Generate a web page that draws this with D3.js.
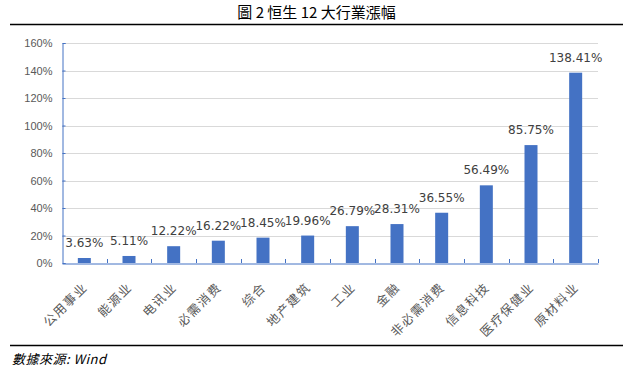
<!DOCTYPE html>
<html>
<head>
<meta charset="utf-8">
<script src="https://cdn.jsdelivr.net/npm/d3@7"></script>
<style>
  body { margin: 0; background: #fff; }
  svg { display: block; }
</style>
</head>
<body>
<svg id="chart" width="633" height="373"></svg>
<script>
// data
var sectors = ["公用事业", "能源业", "电讯业", "必需消费", "综合", "地产建筑", "工业", "金融", "非必需消费", "信息科技", "医疗保健业", "原材料业"];
var gains = [3.63, 5.11, 12.22, 16.22, 18.45, 19.96, 26.79, 28.31, 36.55, 56.49, 85.75, 138.41];
var yTicks = [0, 20, 40, 60, 80, 100, 120, 140, 160];

var svg = d3.select("svg#chart"),
    width = +svg.attr("width"),
    height = +svg.attr("height");

var margin = {left: 62, right: 35, top: 43, bottom: 110};
var axisColor = "#4472C4";

// title + rules
svg.append("text")
    .attr("x", width / 2)
    .attr("y", 18)
    .attr("text-anchor", "middle")
    .style("font-family", "'Noto Sans CJK TC', 'Noto Sans CJK SC', sans-serif")
    .style("font-size", "15px")
    .style("fill", "#000")
    .text("圖 2 恒生 12 大行業漲幅");

svg.append("line")
    .attr("x1", 10).attr("x2", 623)
    .attr("y1", 24.5).attr("y2", 24.5)
    .style("stroke", "#000").attr("stroke-width", 1.5);

svg.append("line")
    .attr("x1", 10).attr("x2", 623)
    .attr("y1", 345.5).attr("y2", 345.5)
    .style("stroke", "#000").attr("stroke-width", 1.5);

svg.append("text")
    .attr("x", 12)
    .attr("y", 364)
    .style("font-family", "'Noto Sans CJK TC', sans-serif")
    .style("font-size", "13px")
    .style("font-style", "italic")
    .style("letter-spacing", "0.5px")
    .style("fill", "#000")
    .text("數據來源: Wind");

// scales
var x = d3.scaleBand()
    .domain(sectors)
    .range([margin.left, width - margin.right]);

var y = d3.scaleLinear()
    .domain([0, 160])
    .range([263, margin.top]);

var g = svg.append("g");

// gridlines
g.append("g")
    .selectAll("line")
    .data(yTicks.slice(1))
    .enter().append("line")
    .attr("x1", margin.left).attr("x2", width - margin.right)
    .attr("y1", function(d) { return Math.round(y(d)) + 0.5; })
    .attr("y2", function(d) { return Math.round(y(d)) + 0.5; })
    .style("stroke", "#d9d9d9");

// y axis
var yAxis = d3.axisRight(y)
    .tickValues(yTicks)
    .tickSize(3)
    .tickFormat(function(d) { return d + "%"; });

var yg = g.append("g")
    .attr("transform", "translate(" + (margin.left + 0.5) + ",0)")
    .call(yAxis);
yg.select(".domain").style("stroke", axisColor);
yg.selectAll(".tick line").style("stroke", axisColor);
yg.selectAll(".tick text")
    .attr("x", -10)
    .attr("text-anchor", "end")
    .style("font-family", "'Liberation Sans', Arial, sans-serif")
    .style("font-size", "11px")
    .style("fill", "#595959");

// bars
var barW = 13;
g.append("g")
    .selectAll("rect")
    .data(gains)
    .enter().append("rect")
    .attr("x", function(d, i) { return x(sectors[i]) + x.bandwidth() / 2 - barW / 2; })
    .attr("y", function(d) { return y(d); })
    .attr("width", barW)
    .attr("height", function(d) { return y(0) - y(d); })
    .attr("fill", "#4472C4");

// x axis
var xAxis = d3.axisBottom(x).tickSize(0).tickFormat("");
var xg = g.append("g")
    .attr("transform", "translate(0," + (y(0) + 0.5) + ")")
    .call(xAxis);
xg.select(".domain").style("stroke", axisColor);

// boundary ticks going up from the axis
g.append("g")
    .selectAll("line")
    .data(sectors)
    .enter().append("line")
    .attr("x1", function(d) { return Math.round(x(d) + x.bandwidth()) + 0.5; })
    .attr("x2", function(d) { return Math.round(x(d) + x.bandwidth()) + 0.5; })
    .attr("y1", y(0) - 4).attr("y2", y(0))
    .style("stroke", axisColor);

// category labels
g.append("g")
    .selectAll("text")
    .data(sectors)
    .enter().append("text")
    .attr("transform", function(d) {
        return "translate(" + (x(d) + x.bandwidth() / 2 + 4) + "," + (y(0) + 25) + ") rotate(-45)";
    })
    .attr("text-anchor", "end")
    .style("font-family", "'Noto Sans CJK SC', sans-serif")
    .style("font-size", "12.5px")
    .style("letter-spacing", "1.5px")
    .style("fill", "#595959")
    .text(function(d) { return d; });

// value labels
g.append("g")
    .selectAll("text")
    .data(gains)
    .enter().append("text")
    .attr("x", function(d, i) { return x(sectors[i]) + x.bandwidth() / 2; })
    .attr("y", function(d) { return y(d) - 11; })
    .attr("text-anchor", "middle")
    .style("font-family", "'DejaVu Sans', sans-serif")
    .style("font-size", "12px")
    .style("fill", "#404040")
    .text(function(d) { return d.toFixed(2) + "%"; });
</script>
</body>
</html>
